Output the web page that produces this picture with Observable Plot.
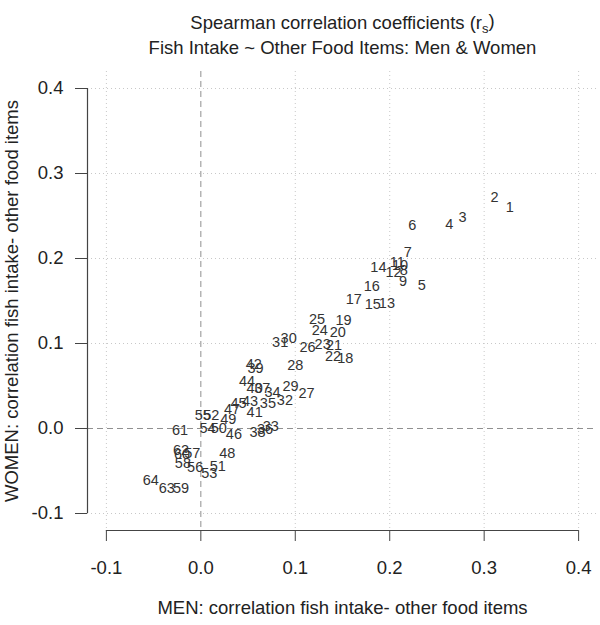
<!DOCTYPE html>
<html>
<head>
<meta charset="utf-8">
<script src="https://cdn.jsdelivr.net/npm/d3@7"></script>
<script src="https://cdn.jsdelivr.net/npm/@observablehq/plot@0.6"></script>
<style>
  html, body { margin: 0; padding: 0; background: #fff; }
</style>
</head>
<body>
<div id="chart"></div>
<script>
// Food item numbers
const items = [1,2,3,4,5,6,7,8,9,10,11,12,13,14,15,16,17,18,19,20,21,22,23,24,25,26,27,28,29,30,31,32,33,34,35,36,37,38,39,40,41,42,43,44,45,46,47,48,49,50,51,52,53,54,55,56,57,58,59,60,61,62,63,64];
// MEN: correlation fish intake - other food items (x)
const men = [0.327,0.311,0.277,0.263,0.234,0.224,0.219,0.215,0.214,0.211,0.208,0.204,0.197,0.188,0.182,0.181,0.162,0.153,0.151,0.145,0.141,0.140,0.129,0.126,0.123,0.113,0.112,0.100,0.095,0.093,0.084,0.089,0.074,0.076,0.071,0.068,0.065,0.060,0.058,0.057,0.057,0.056,0.052,0.049,0.040,0.035,0.033,0.028,0.029,0.019,0.018,0.011,0.009,0.007,0.002,-0.006,-0.009,-0.019,-0.021,-0.020,-0.022,-0.021,-0.036,-0.053];
// WOMEN: correlation fish intake - other food items (y)
const women = [0.260,0.272,0.248,0.240,0.168,0.239,0.207,0.186,0.173,0.192,0.196,0.184,0.147,0.189,0.146,0.167,0.152,0.083,0.127,0.113,0.098,0.085,0.099,0.115,0.128,0.096,0.041,0.074,0.049,0.106,0.101,0.033,0.002,0.043,0.029,-0.001,0.047,-0.005,0.071,0.047,0.019,0.075,0.032,0.055,0.029,-0.007,0.022,-0.029,0.011,0.000,-0.045,0.016,-0.053,0.000,0.015,-0.046,-0.029,-0.041,-0.070,-0.031,-0.002,-0.026,-0.070,-0.061];

const ticks = [-0.1, 0.0, 0.1, 0.2, 0.3, 0.4];
const titleLine1 = "Spearman correlation coefficients (rs)";
const titleLine2 = "Fish Intake ~ Other Food Items: Men & Women";
const xTitle = "MEN: correlation fish intake- other food items";
const yTitle = "WOMEN: correlation fish intake- other food items";

const data = items.map((id, i) => ({id: String(id), men: men[i], women: women[i]}));
const fmt = d => d.toFixed(1);
const lo = ticks[0], hi = ticks[ticks.length - 1];
const pad = (hi - lo) * 0.04;

const chart = Plot.plot({
  width: 600,
  height: 625,
  marginLeft: 87,
  marginRight: 3,
  marginTop: 71,
  marginBottom: 95,
  style: {fontFamily: "'Liberation Sans', Arial, sans-serif", fontSize: "18.5px", color: "#222", background: "#fff"},
  x: {domain: [lo - pad, hi + pad]},
  y: {domain: [lo - pad, hi + pad]},
  marks: [
    // grid
    Plot.ruleX(ticks.filter(t => t !== 0), {stroke: "#c8c8c8", strokeDasharray: "1,3", strokeWidth: 1}),
    Plot.ruleY(ticks.filter(t => t !== 0), {stroke: "#c8c8c8", strokeDasharray: "1,3", strokeWidth: 1}),
    // dashed zero lines
    Plot.ruleX([0], {stroke: "#909090", strokeDasharray: "6,4", strokeWidth: 1}),
    Plot.ruleY([0], {stroke: "#909090", strokeDasharray: "6,4", strokeWidth: 1}),
    // axis lines (R style, spanning first to last tick)
    Plot.ruleY([lo - pad], {x1: lo, x2: hi, stroke: "#444", strokeWidth: 1.2}),
    Plot.ruleX([lo - pad], {y1: lo, y2: hi, stroke: "#444", strokeWidth: 1.2}),
    Plot.axisX({ticks, tickFormat: fmt, tickSize: 11, tickPadding: 19, label: null, stroke: "#444", fill: "#222", fontSize: 18.5}),
    Plot.axisY({ticks, tickFormat: fmt, tickSize: 12, tickPadding: 12, label: null, stroke: "#444", fill: "#222", fontSize: 18.5}),
    // point labels
    Plot.text(data, {x: "men", y: "women", text: "id", fontSize: 14.5, fill: "#333"}),
    // titles
    Plot.text([titleLine1], {frameAnchor: "top", dy: -56, fontSize: 18.5, fill: "#222"}),
    Plot.text([titleLine2], {frameAnchor: "top", dy: -31, fontSize: 18.5, fill: "#222"}),
    Plot.text([xTitle], {frameAnchor: "bottom", dy: 83, fontSize: 18.5, fill: "#222"}),
    Plot.text([yTitle], {frameAnchor: "left", textAnchor: "middle", dx: -75, rotate: -90, fontSize: 18.5, fill: "#222"})
  ]
});

// subscript "s" in r_s
d3.select(chart).selectAll("text").filter(function() { return this.textContent === titleLine1; })
  .each(function() {
    const t = d3.select(this);
    t.text(null);
    t.append("tspan").text("Spearman correlation coefficients (r");
    t.append("tspan").attr("dy", "0.3em").attr("font-size", "13px").text("s");
    t.append("tspan").attr("dy", "-0.3em").text(")");
  });

document.getElementById("chart").appendChild(chart);
</script>
</body>
</html>
